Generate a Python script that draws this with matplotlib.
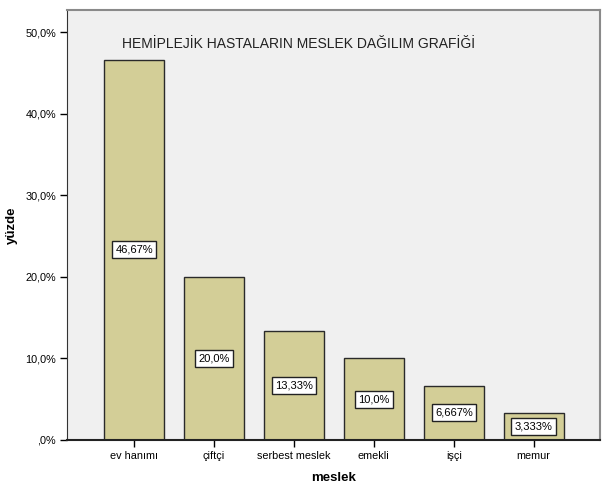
import matplotlib.pyplot as plt
from matplotlib.ticker import FuncFormatter

plt.rcParams['font.family'] = ['Liberation Sans', 'DejaVu Sans']

# data
meslek = ['ev hanımı', 'çiftçi', 'serbest meslek', 'emekli', 'işçi', 'memur']
yuzde = [46.67, 20.0, 13.33, 10.0, 6.667, 3.333]
etiket = ['46,67%', '20,0%', '13,33%', '10,0%', '6,667%', '3,333%']

fig = plt.figure(figsize=(6.02, 4.88), dpi=100)
ax = fig.add_axes([0.1113, 0.0984, 0.8854, 0.8811])
ax.set_facecolor('#F0F0F0')

x = range(len(meslek))
ax.bar(x, yuzde, width=0.75, color='#D3CE97', edgecolor='#2a2a2a', linewidth=1)

for i, (v, t) in enumerate(zip(yuzde, etiket)):
    ax.text(i, v / 2, t, ha='center', va='center', fontsize=8,
            bbox=dict(boxstyle='square,pad=0.3', fc='white', ec='#222222', lw=1))

ax.set_xlim(-0.84, 5.83)
ax.set_ylim(0, 52.76)
ax.set_yticks([0, 10, 20, 30, 40, 50])
ax.yaxis.set_major_formatter(FuncFormatter(
    lambda v, p: ',0%' if v == 0 else f'{v:.1f}%'.replace('.', ',')))
ax.set_xticks(list(x))
ax.set_xticklabels(meslek)
ax.tick_params(axis='both', labelsize=7.8, length=5, width=1, direction='out', pad=3)

for s in ['top', 'right']:
    ax.spines[s].set_color('#8a8a8a')
    ax.spines[s].set_linewidth(1.5)
ax.spines['left'].set_color('#333333')
ax.spines['bottom'].set_color('#222222')
ax.spines['bottom'].set_linewidth(1.5)

ax.text(0.435, 0.92, 'HEMİPLEJİK HASTALARIN MESLEK DAĞILIM GRAFİĞİ',
        transform=ax.transAxes, ha='center', va='center', fontsize=10, color='#222222')

ax.set_xlabel('meslek', fontsize=9.5, fontweight='bold', labelpad=8)
ax.set_ylabel('yüzde', fontsize=9.5, fontweight='bold', labelpad=5)

fig.savefig('out.png', dpi=100)
